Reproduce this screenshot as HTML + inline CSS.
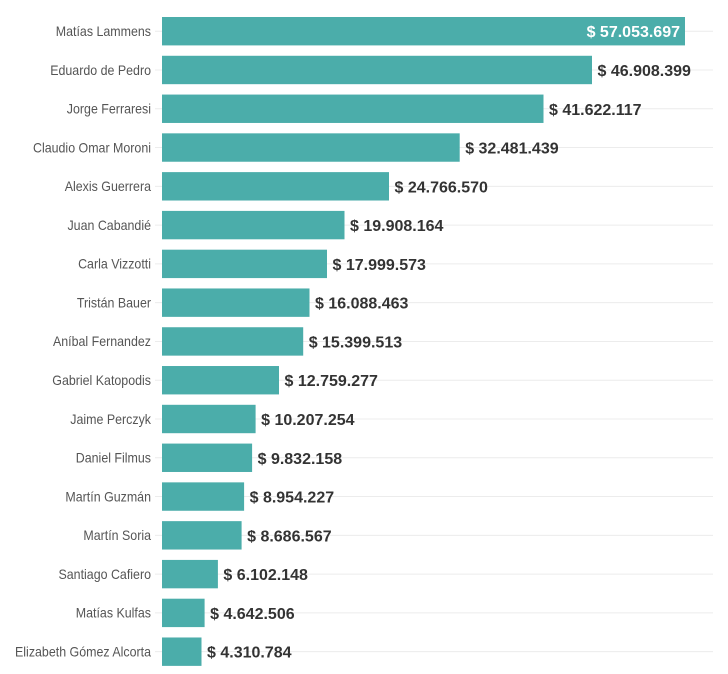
<!DOCTYPE html>
<html><head><meta charset="utf-8"><style>
html,body{margin:0;padding:0;background:#fff;}
svg{display:block;}
.n{font-family:"Liberation Sans",sans-serif;font-size:13.5px;fill:#555;text-anchor:end;}
.v{font-family:"Liberation Sans",sans-serif;font-size:16px;font-weight:bold;fill:#333;}
.g{stroke:#ececec;stroke-width:1;}
.b{fill:#4badaa;}
</style></head><body>
<svg width="728" height="674" viewBox="0 0 728 674" xmlns="http://www.w3.org/2000/svg">
<line class="g" x1="155" x2="713" y1="31.2" y2="31.2"/>
<line class="g" x1="155" x2="713" y1="69.98" y2="69.98"/>
<line class="g" x1="155" x2="713" y1="108.76" y2="108.76"/>
<line class="g" x1="155" x2="713" y1="147.54" y2="147.54"/>
<line class="g" x1="155" x2="713" y1="186.32" y2="186.32"/>
<line class="g" x1="155" x2="713" y1="225.1" y2="225.1"/>
<line class="g" x1="155" x2="713" y1="263.88" y2="263.88"/>
<line class="g" x1="155" x2="713" y1="302.66" y2="302.66"/>
<line class="g" x1="155" x2="713" y1="341.44" y2="341.44"/>
<line class="g" x1="155" x2="713" y1="380.22" y2="380.22"/>
<line class="g" x1="155" x2="713" y1="419" y2="419"/>
<line class="g" x1="155" x2="713" y1="457.78" y2="457.78"/>
<line class="g" x1="155" x2="713" y1="496.56" y2="496.56"/>
<line class="g" x1="155" x2="713" y1="535.34" y2="535.34"/>
<line class="g" x1="155" x2="713" y1="574.12" y2="574.12"/>
<line class="g" x1="155" x2="713" y1="612.9" y2="612.9"/>
<line class="g" x1="155" x2="713" y1="651.68" y2="651.68"/>

<rect class="b" x="162" y="17" width="523" height="28.4"/>
<rect class="b" x="162" y="55.78" width="430" height="28.4"/>
<rect class="b" x="162" y="94.56" width="381.5" height="28.4"/>
<rect class="b" x="162" y="133.34" width="297.7" height="28.4"/>
<rect class="b" x="162" y="172.12" width="227" height="28.4"/>
<rect class="b" x="162" y="210.9" width="182.5" height="28.4"/>
<rect class="b" x="162" y="249.68" width="165" height="28.4"/>
<rect class="b" x="162" y="288.46" width="147.5" height="28.4"/>
<rect class="b" x="162" y="327.24" width="141.2" height="28.4"/>
<rect class="b" x="162" y="366.02" width="117" height="28.4"/>
<rect class="b" x="162" y="404.8" width="93.6" height="28.4"/>
<rect class="b" x="162" y="443.58" width="90.1" height="28.4"/>
<rect class="b" x="162" y="482.36" width="82.1" height="28.4"/>
<rect class="b" x="162" y="521.14" width="79.6" height="28.4"/>
<rect class="b" x="162" y="559.92" width="55.9" height="28.4"/>
<rect class="b" x="162" y="598.7" width="42.6" height="28.4"/>
<rect class="b" x="162" y="637.48" width="39.5" height="28.4"/>

<g transform="translate(151,0) scale(0.92,1)">
<text class="n" x="0" y="36">Matías Lammens</text>
<text class="n" x="0" y="74.78">Eduardo de Pedro</text>
<text class="n" x="0" y="113.56">Jorge Ferraresi</text>
<text class="n" x="0" y="152.34">Claudio Omar Moroni</text>
<text class="n" x="0" y="191.12">Alexis Guerrera</text>
<text class="n" x="0" y="229.9">Juan Cabandié</text>
<text class="n" x="0" y="268.68">Carla Vizzotti</text>
<text class="n" x="0" y="307.46">Tristán Bauer</text>
<text class="n" x="0" y="346.24">Aníbal Fernandez</text>
<text class="n" x="0" y="385.02">Gabriel Katopodis</text>
<text class="n" x="0" y="423.8">Jaime Perczyk</text>
<text class="n" x="0" y="462.58">Daniel Filmus</text>
<text class="n" x="0" y="501.36">Martín Guzmán</text>
<text class="n" x="0" y="540.14">Martín Soria</text>
<text class="n" x="0" y="578.92">Santiago Cafiero</text>
<text class="n" x="0" y="617.7">Matías Kulfas</text>
<text class="n" x="0" y="656.48">Elizabeth Gómez Alcorta</text>
</g>

<text class="v" x="680" y="37.2" text-anchor="end" style="fill:#fff">$ 57.053.697</text>
<text class="v" x="597.5" y="75.98">$ 46.908.399</text>
<text class="v" x="549" y="114.76">$ 41.622.117</text>
<text class="v" x="465.2" y="153.54">$ 32.481.439</text>
<text class="v" x="394.5" y="192.32">$ 24.766.570</text>
<text class="v" x="350" y="231.1">$ 19.908.164</text>
<text class="v" x="332.5" y="269.88">$ 17.999.573</text>
<text class="v" x="315" y="308.66">$ 16.088.463</text>
<text class="v" x="308.7" y="347.44">$ 15.399.513</text>
<text class="v" x="284.5" y="386.22">$ 12.759.277</text>
<text class="v" x="261.1" y="425">$ 10.207.254</text>
<text class="v" x="257.6" y="463.78">$ 9.832.158</text>
<text class="v" x="249.6" y="502.56">$ 8.954.227</text>
<text class="v" x="247.1" y="541.34">$ 8.686.567</text>
<text class="v" x="223.4" y="580.12">$ 6.102.148</text>
<text class="v" x="210.1" y="618.9">$ 4.642.506</text>
<text class="v" x="207" y="657.68">$ 4.310.784</text>
</svg>
</body></html>
